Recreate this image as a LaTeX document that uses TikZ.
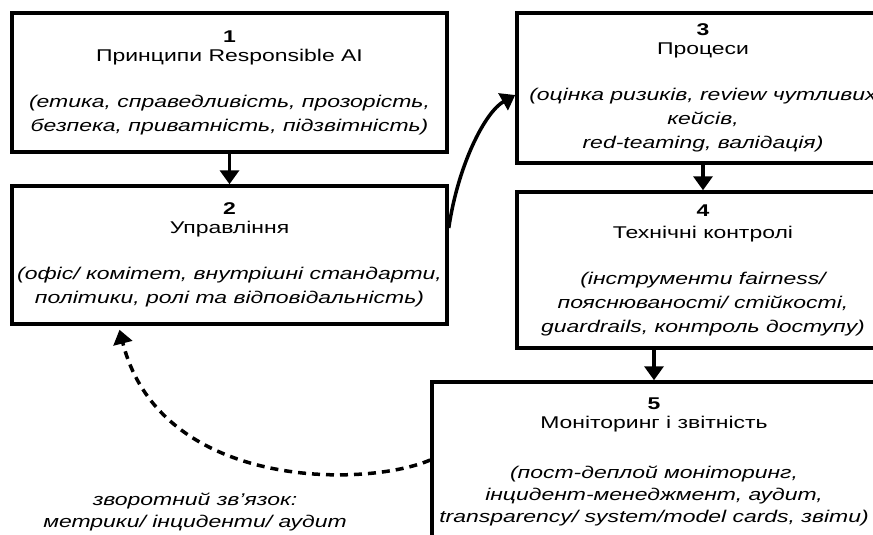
\documentclass[tikz,border=0pt]{standalone}
\usepackage{fontspec}
\setmainfont[FakeStretch=1.35]{Liberation Sans}
\usetikzlibrary{arrows.meta}

\begin{document}
\begin{tikzpicture}[x=1pt,y=-1pt,
  stepbox/.style={draw,line width=3.5pt,inner sep=0pt,align=center,font=\fontsize{17}{24}\selectfont},
  arrow/.style={-{Triangle[width=19pt,length=14pt]},line width=3.5pt},
  feedback/.style={arrow,dash pattern=on 8pt off 6pt}
]
\useasboundingbox[fill=white] (0,0) rectangle (873,535);
\clip (0,0) rectangle (873,535);
\node[stepbox,minimum width=435pt,minimum height=139pt] (principles) at (229.5,82.5) {\textbf{1}\\[-5pt]Принципи Responsible AI\\[22pt]\itshape (етика, справедливість, прозорість,\\\itshape безпека, приватність, підзвітність)};
\node[stepbox,minimum width=435pt,minimum height=138pt] (governance) at (229.5,255) {\textbf{2}\\[-5pt]Управління\\[22pt]\itshape (офіс/ комітет, внутрішні стандарти,\\\itshape політики, ролі та відповідальність)};
\node[stepbox,minimum width=372pt,minimum height=150pt] (processes) at (703,88) {\textbf{3}\\[-5pt]Процеси\\[22pt]\itshape (оцінка ризиків, review чутливих\\\itshape кейсів,\\\itshape red-teaming, валідація)};
\node[stepbox,minimum width=372pt,minimum height=156pt] (controls) at (703,270) {\textbf{4}\\[-2pt]Технічні контролі\\[22pt]\itshape (інструменти fairness/\\\itshape пояснюваності/ стійкості,\\\itshape guardrails, контроль доступу)};
\node[stepbox,minimum width=444pt,minimum height=160pt] (monitoring) at (654,462) {\textbf{5}\\[-5pt]Моніторинг і звітність\\[26pt]\itshape (пост-деплой моніторинг,\\[-2pt]\itshape інцидент-менеджмент, аудит,\\[-2pt]\itshape transparency/ system/model cards, звіти)};
\node[align=center,font=\fontsize{17}{22}\selectfont\itshape] (loop) at (195,512) {зворотний зв'язок:\\\itshape метрики/ інциденти/ аудит};
\draw[arrow] (principles) -- (governance);
\draw[arrow] ([yshift=27pt]governance.east) .. controls (458,165) and (485,112) .. ([yshift=-7pt]processes.west);
\draw[arrow] (processes) -- (controls);
\draw[arrow] (controls.south -| monitoring.north) -- (monitoring.north);
\draw[feedback] ([yshift=2pt]monitoring.west) .. controls (365,488) and (160,490) .. ([xshift=-110pt,yshift=-4pt]governance.south);
\end{tikzpicture}
\end{document}
